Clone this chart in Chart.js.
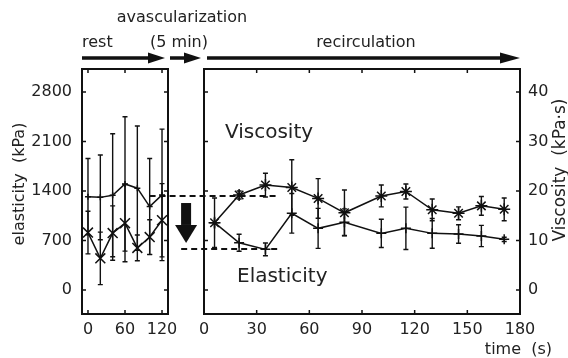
<!DOCTYPE html>
<html>
<head>
<meta charset="utf-8">
<script src="https://cdn.jsdelivr.net/npm/chart.js@4.4.0/dist/chart.umd.min.js"></script>
<style>
  html, body { margin: 0; padding: 0; background: #fff; }
  #wrap { position: relative; width: 568px; height: 358px; overflow: hidden; }
  #wrap canvas { position: absolute; left: 0; top: 0; }
</style>
</head>
<body>
<div id="wrap">
  <canvas id="chart-rest" width="568" height="358"></canvas>
  <canvas id="chart-recirc" width="568" height="358"></canvas>
</div>
<script>
// ===== data =====
// rest phase (left panel)
const restTime          = [0, 20, 40, 60, 80, 100, 120];
const restElasticity    = [1320, 1310, 1340, 1500, 1440, 1180, 1345];
const restElasticityErr = [540, 600, 870, 950, 880, 680, 930];
const restViscosity     = [11.6, 6.4, 11.5, 13.5, 8.5, 10.7, 14.1];
const restViscosityErr  = [4.3, 5.3, 5.5, 7.8, 2.6, 3.5, 7.4];

// recirculation phase (right panel)
const recircTime          = [6, 20, 35, 50, 65, 80, 101, 115, 130, 145, 158, 171];
const recircElasticity    = [952, 669, 575, 1084, 872, 957, 801, 872, 801, 792, 764, 717];
const recircElasticityErr = [350, 120, 90, 280, 283, 190, 200, 300, 210, 130, 150, 30];
const recircViscosity     = [13.6, 19.2, 21.2, 20.7, 18.5, 15.6, 19.0, 19.9, 16.2, 15.5, 17.0, 16.3];
const recircViscosityErr  = [0, 0.8, 2.4, 5.6, 4.0, 4.6, 2.2, 1.5, 2.2, 1.3, 1.9, 2.3];

// dashed guide levels (x in recirculation seconds, may run left of the panel)
const guideRestX       = [-31, 43];
const guideRestLevel   = [1330, 1330];
const guideAvascX      = [-13, 43];
const guideAvascLevel  = [580, 580];

// ticks
const restTicksX       = [0, 60, 120];
const recircTicksX     = [0, 30, 60, 90, 120, 150, 180];
const elasticityTicks  = [0, 700, 1400, 2100, 2800];
const viscosityTicks   = [0, 10, 20, 30, 40];

// axis ranges (700 kPa on the left = 10 kPa·s on the right)
const ELAST_MIN = -339, ELAST_MAX = 3125, KPA_PER_VISC = 70;

Chart.defaults.font.family = "'DejaVu Sans', sans-serif";
Chart.defaults.font.size = 16;
Chart.defaults.color = '#222';

const INK = '#111';
const pts = (xs, ys) => xs.map((x, i) => ({ x, y: ys[i] }));
const fixTicks = arr => s => { s.ticks = arr.map(v => ({ value: v })); };
const plainLabel = v => String(v);

// frame, inward tick marks, error bars
const frameAndErrors = {
  id: 'frameAndErrors',
  afterDatasetsDraw(chart, args, opts) {
    const { ctx, chartArea: a, scales } = chart;
    ctx.save();
    ctx.strokeStyle = INK;
    ctx.lineWidth = 1.4;
    chart.data.datasets.forEach((ds, i) => {
      if (!ds.errors) return;
      const ys = scales[ds.yAxisID];
      chart.getDatasetMeta(i).data.forEach((pt, j) => {
        const e = ds.errors[j];
        if (!e) return;
        const v = ds.data[j].y;
        const top = ys.getPixelForValue(v + e), bot = ys.getPixelForValue(v - e);
        ctx.beginPath();
        ctx.moveTo(pt.x, top); ctx.lineTo(pt.x, bot);
        ctx.moveTo(pt.x - 2.5, top); ctx.lineTo(pt.x + 2.5, top);
        ctx.moveTo(pt.x - 2.5, bot); ctx.lineTo(pt.x + 2.5, bot);
        ctx.stroke();
      });
    });
    ctx.lineWidth = 2;
    ctx.strokeRect(a.left, a.top, a.right - a.left, a.bottom - a.top);
    ctx.lineWidth = 1.5;
    ctx.beginPath();
    scales.x.ticks.forEach(t => {
      const px = scales.x.getPixelForValue(t.value);
      ctx.moveTo(px, a.bottom); ctx.lineTo(px, a.bottom - 4);
      ctx.moveTo(px, a.top); ctx.lineTo(px, a.top + 4);
    });
    const ys = scales[opts.tickAxis];
    ys.ticks.forEach(t => {
      const py = ys.getPixelForValue(t.value);
      ctx.moveTo(a.left, py); ctx.lineTo(a.left + 4, py);
      ctx.moveTo(a.right, py); ctx.lineTo(a.right - 4, py);
    });
    ctx.stroke();
    ctx.restore();
  }
};

function arrow(ctx, x1, x2, y, shaft, headLen, headHalf) {
  ctx.fillRect(x1, y - shaft / 2, x2 - headLen - x1, shaft);
  ctx.beginPath();
  ctx.moveTo(x2 - headLen, y - headHalf);
  ctx.lineTo(x2, y);
  ctx.lineTo(x2 - headLen, y + headHalf);
  ctx.closePath();
  ctx.fill();
}

// phase labels, series labels, axis titles, big drop arrow
const annotations = {
  id: 'annotations',
  afterDraw(chart) {
    const { ctx, chartArea: a, scales } = chart;
    ctx.save();
    ctx.fillStyle = '#222';
    ctx.textBaseline = 'middle';
    ctx.font = "16px 'DejaVu Sans'";
    ctx.textAlign = 'center';
    ctx.fillText('avascularization', 182, 18);
    ctx.fillText('(5 min)', 179, 43);
    ctx.fillText('recirculation', 366, 43);
    ctx.textAlign = 'left';
    ctx.fillText('rest', 82, 43);
    ctx.textAlign = 'right';
    ctx.fillText('time  (s)', 552, 350);

    ctx.fillStyle = INK;
    arrow(ctx, 82, 165, 58, 3.5, 17, 5.5);
    arrow(ctx, 170, 201, 58, 3.5, 17, 5.5);
    arrow(ctx, a.left + 3, a.right, 58, 3.5, 20, 5.5);

    // drop after avascularization
    const ye = scales.y, cx = scales.x.getPixelForValue(-10.2);
    const yTop = ye.getPixelForValue(1230), yHead = ye.getPixelForValue(920), yTip = ye.getPixelForValue(665);
    ctx.fillRect(cx - 5, yTop, 10, yHead - yTop);
    ctx.beginPath();
    ctx.moveTo(cx - 11, yHead); ctx.lineTo(cx + 11, yHead); ctx.lineTo(cx, yTip);
    ctx.closePath();
    ctx.fill();

    ctx.fillStyle = '#222';
    ctx.font = "20px 'DejaVu Sans'";
    ctx.textAlign = 'left';
    ctx.fillText('Viscosity', 225, 133);
    ctx.fillText('Elasticity', 237, 277);

    ctx.font = "16px 'DejaVu Sans'";
    ctx.textAlign = 'center';
    ctx.save();
    ctx.translate(20, 184); ctx.rotate(-Math.PI / 2);
    ctx.fillText('elasticity  (kPa)', 0, 0);
    ctx.restore();
    ctx.save();
    ctx.font = "17px 'DejaVu Sans'";
    ctx.translate(561, 170); ctx.rotate(-Math.PI / 2);
    ctx.fillText('Viscosity  (kPa·s)', 0, 0);
    ctx.restore();
    ctx.restore();
  }
};

const lineStyle = { borderColor: INK, backgroundColor: INK, borderWidth: 1.5, tension: 0 };
const noGrid = { display: false, drawTicks: false };
const noBorder = { display: false };

// ---- left panel: rest ----
new Chart(document.getElementById('chart-rest'), {
  type: 'line',
  data: {
    datasets: [
      { ...lineStyle, label: 'Elasticity', data: pts(restTime, restElasticity), errors: restElasticityErr,
        yAxisID: 'y', pointStyle: 'cross', pointRadius: 3, pointBorderWidth: 1.5 },
      { ...lineStyle, label: 'Viscosity', data: pts(restTime, restViscosity), errors: restViscosityErr,
        yAxisID: 'y2', pointStyle: 'crossRot', pointRadius: 7, pointBorderWidth: 1.5 },
    ],
  },
  options: {
    responsive: false, animation: false,
    layout: { padding: { left: 0, right: 400, top: 69, bottom: 0 } },
    plugins: { legend: { display: false }, tooltip: { enabled: false }, frameAndErrors: { tickAxis: 'y' } },
    scales: {
      x: { type: 'linear', min: -9.7, max: 129.7, grid: noGrid, border: noBorder,
           afterBuildTicks: fixTicks(restTicksX), afterFit: s => { s.height = 44; },
           ticks: { padding: 6, maxRotation: 0, callback: plainLabel } },
      y: { min: ELAST_MIN, max: ELAST_MAX, grid: noGrid, border: noBorder,
           afterBuildTicks: fixTicks(elasticityTicks), afterFit: s => { s.width = 82; },
           ticks: { padding: 10, callback: plainLabel } },
      y2: { display: false, min: ELAST_MIN / KPA_PER_VISC, max: ELAST_MAX / KPA_PER_VISC },
    },
  },
  plugins: [frameAndErrors],
});

// ---- right panel: recirculation ----
new Chart(document.getElementById('chart-recirc'), {
  type: 'line',
  data: {
    datasets: [
      { ...lineStyle, label: 'Elasticity', data: pts(recircTime, recircElasticity), errors: recircElasticityErr,
        yAxisID: 'y', pointStyle: 'cross', pointRadius: 5, pointBorderWidth: 1.5 },
      { ...lineStyle, label: 'Viscosity', data: pts(recircTime, recircViscosity), errors: recircViscosityErr,
        yAxisID: 'y2', pointStyle: 'star', pointRadius: 6, pointBorderWidth: 1.5 },
      { label: 'rest level', data: pts(guideRestX, guideRestLevel), yAxisID: 'y', clip: false,
        borderColor: INK, borderWidth: 2, borderDash: [6, 4], pointRadius: 0 },
      { label: 'avascularization level', data: pts(guideAvascX, guideAvascLevel), yAxisID: 'y', clip: false,
        borderColor: INK, borderWidth: 2, borderDash: [6, 4], pointRadius: 0 },
    ],
  },
  options: {
    responsive: false, animation: false,
    layout: { padding: { left: 204, right: 0, top: 69, bottom: 0 } },
    plugins: { legend: { display: false }, tooltip: { enabled: false }, frameAndErrors: { tickAxis: 'y2' } },
    scales: {
      x: { type: 'linear', min: 0, max: 180, grid: noGrid, border: noBorder,
           afterBuildTicks: fixTicks(recircTicksX), afterFit: s => { s.height = 44; },
           ticks: { padding: 6, maxRotation: 0, callback: plainLabel } },
      y: { display: false, min: ELAST_MIN, max: ELAST_MAX },
      y2: { position: 'right', min: ELAST_MIN / KPA_PER_VISC, max: ELAST_MAX / KPA_PER_VISC,
            grid: noGrid, border: noBorder,
            afterBuildTicks: fixTicks(viscosityTicks), afterFit: s => { s.width = 48; },
            ticks: { padding: 8, callback: plainLabel } },
    },
  },
  plugins: [frameAndErrors, annotations],
});
</script>
</body>
</html>
